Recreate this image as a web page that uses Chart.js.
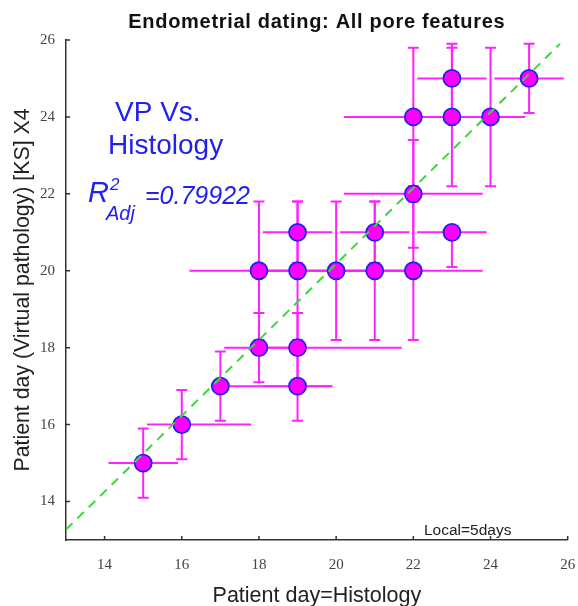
<!DOCTYPE html>
<html>
<head>
<meta charset="utf-8">
<script src="https://cdn.jsdelivr.net/npm/chart.js@4.4.1/dist/chart.umd.min.js"></script>
<style>
  html, body { margin: 0; padding: 0; background: #fff; }
  canvas { display: block; }
</style>
</head>
<body>
<canvas id="dating" width="578" height="606"></canvas>
<script>
// histology day (x) vs virtual pathology day (y)
const histDay = [15, 16, 17, 18, 19, 19, 18, 19, 20, 21, 22, 19, 21, 23, 22, 22, 23, 24, 23, 25];
const vpDay   = [15, 16, 17, 18, 17, 18, 20, 20, 20, 20, 20, 21, 21, 21, 22, 24, 24, 24, 25, 25];
// error bar extents (left/right and below/above each point)
const xErrLow  = [0.9, 0.9, 0,   0.9, 0.9, 0.9, 1.8, 0.9, 1.8, 0.9, 1.8, 0.9, 0.9, 0.9, 1.8, 1.8, 0.9, 0.9, 0.9, 0.9];
const xErrHigh = [0.9, 1.8, 2.9, 0.9, 0.9, 2.7, 1.8, 0.9, 1.8, 0.9, 1.8, 0.9, 0.9, 0.9, 1.8, 1.8, 0.9, 0.9, 0.9, 0.9];
const yErrLow  = [0.9, 0.9, 0.9, 0.9, 0.9, 0.9, 1.8, 1.8, 1.8, 1.8, 1.8, 0.8, 0.8, 0.9, 1.4, 1.8, 1.8, 1.8, 0.9, 0.9];
const yErrHigh = [0.9, 0.9, 0.9, 0.9, 0.9, 0.9, 1.8, 1.8, 1.8, 1.8, 1.8, 0.8, 0.8, 0,   1.4, 1.8, 1.8, 1.8, 0.9, 0.9];
// fitted line end points
const fitX = [13, 25.8];
const fitY = [13.27, 25.9];
const xTicks = [14, 16, 18, 20, 22, 24, 26];
const yTicks = [14, 16, 18, 20, 22, 24, 26];

const MAGENTA = '#ff22ff';
const BLUE = '#2020f0';

const points = histDay.map((x, i) => ({x: x, y: vpDay[i]}));
const fitLine = fitX.map((x, i) => ({x: x, y: fitY[i]}));

// error bars go under the markers
const errorBars = {
  id: 'errorBars',
  beforeDatasetsDraw(chart) {
    const ctx = chart.ctx;
    const xs = chart.scales.x, ys = chart.scales.y;
    const cap = 5.5;
    ctx.save();
    ctx.strokeStyle = MAGENTA;
    ctx.lineWidth = 2;
    points.forEach((p, i) => {
      const px = xs.getPixelForValue(p.x);
      const py = ys.getPixelForValue(p.y);
      const left = xs.getPixelForValue(p.x - xErrLow[i]);
      const right = xs.getPixelForValue(p.x + xErrHigh[i]);
      const top = ys.getPixelForValue(p.y + yErrHigh[i]);
      const bottom = ys.getPixelForValue(p.y - yErrLow[i]);
      ctx.beginPath();
      ctx.moveTo(left, py);
      ctx.lineTo(right, py);
      ctx.moveTo(px, top);
      ctx.lineTo(px, bottom);
      if (yErrHigh[i] > 0) {
        ctx.moveTo(px - cap, top);
        ctx.lineTo(px + cap, top);
      }
      if (yErrLow[i] > 0) {
        ctx.moveTo(px - cap, bottom);
        ctx.lineTo(px + cap, bottom);
      }
      ctx.stroke();
    });
    ctx.restore();
  }
};

// inward tick marks and all the text
const decorations = {
  id: 'decorations',
  afterDraw(chart) {
    const ctx = chart.ctx;
    const xs = chart.scales.x, ys = chart.scales.y;
    const area = chart.chartArea;
    const midX = (area.left + area.right) / 2;
    ctx.save();
    ctx.strokeStyle = '#333';
    ctx.lineWidth = 1.5;
    ctx.beginPath();
    xs.ticks.forEach(t => {
      const px = xs.getPixelForValue(t.value);
      ctx.moveTo(px, area.bottom);
      ctx.lineTo(px, area.bottom - 4);
    });
    ys.ticks.forEach(t => {
      const py = ys.getPixelForValue(t.value);
      ctx.moveTo(area.left, py);
      ctx.lineTo(area.left + 4, py);
    });
    ctx.stroke();

    // title
    ctx.fillStyle = '#111';
    ctx.textAlign = 'center';
    ctx.textBaseline = 'alphabetic';
    ctx.font = 'bold 20px "Liberation Sans", Arial, sans-serif';
    ctx.letterSpacing = '0.7px';
    ctx.fillText('Endometrial dating: All pore features', midX, 28);
    ctx.letterSpacing = '0px';

    // axis titles
    ctx.fillStyle = '#222';
    ctx.font = '21.5px "Liberation Sans", Arial, sans-serif';
    ctx.fillText('Patient day=Histology', midX, 602);
    ctx.save();
    ctx.translate(29, (area.top + area.bottom) / 2);
    ctx.rotate(-Math.PI / 2);
    ctx.font = '21.3px "Liberation Sans", Arial, sans-serif';
    ctx.fillText('Patient day (Virtual pathology) [KS] X4', 0, 0);
    ctx.restore();

    // annotation
    ctx.fillStyle = BLUE;
    ctx.textAlign = 'left';
    ctx.font = '28px "Liberation Sans", Arial, sans-serif';
    ctx.fillText('VP Vs.', 115, 121);
    ctx.fillText('Histology', 108, 154);
    ctx.font = 'italic 29px "Liberation Sans", Arial, sans-serif';
    ctx.fillText('R', 88, 202);
    ctx.font = 'italic 17px "Liberation Sans", Arial, sans-serif';
    ctx.fillText('2', 110, 190);
    ctx.font = 'italic 20px "Liberation Sans", Arial, sans-serif';
    ctx.fillText('Adj', 106, 220);
    ctx.font = 'italic 25px "Liberation Sans", Arial, sans-serif';
    ctx.fillText('=0.79922', 145, 204);

    ctx.fillStyle = '#222';
    ctx.font = '15.5px "Liberation Sans", Arial, sans-serif';
    ctx.fillText('Local=5days', 424, 535);
    ctx.restore();
  }
};

const tickFont = {family: '"Liberation Serif", "Times New Roman", serif', size: 15};

new Chart(document.getElementById('dating'), {
  type: 'scatter',
  data: {
    datasets: [
      {
        type: 'line',
        data: fitLine,
        borderColor: '#3bd63b',
        borderWidth: 2,
        borderDash: [9, 7],
        pointRadius: 0,
        fill: false,
      },
      {
        data: points,
        backgroundColor: '#ff00ff',
        borderColor: BLUE,
        borderWidth: 1.8,
        pointRadius: 8.5,
        pointHoverRadius: 8.5,
      },
    ],
  },
  options: {
    responsive: false,
    devicePixelRatio: 1,
    animation: false,
    layout: {
      padding: {top: 40, right: 9, left: 0, bottom: 0}
    },
    plugins: {
      legend: {display: false},
      tooltip: {enabled: false},
    },
    scales: {
      x: {
        type: 'linear',
        min: 13,
        max: 26,
        grid: {display: false, drawTicks: false},
        border: {display: true, color: '#333', width: 1.5},
        ticks: {font: tickFont, color: '#444', padding: 16},
        afterBuildTicks: scale => { scale.ticks = xTicks.map(v => ({value: v})); },
        afterFit: scale => {
          scale.height = 66;
          scale.paddingLeft = 0;
          scale.paddingRight = 0;
        },
      },
      y: {
        type: 'linear',
        min: 13,
        max: 26,
        grid: {display: false, drawTicks: false},
        border: {display: true, color: '#333', width: 1.5},
        ticks: {font: tickFont, color: '#444', padding: 11},
        afterBuildTicks: scale => { scale.ticks = yTicks.map(v => ({value: v})); },
        afterFit: scale => {
          scale.width = 66;
          scale.paddingTop = 0;
          scale.paddingBottom = 0;
        },
      },
    },
  },
  plugins: [errorBars, decorations],
});
</script>
</body>
</html>
